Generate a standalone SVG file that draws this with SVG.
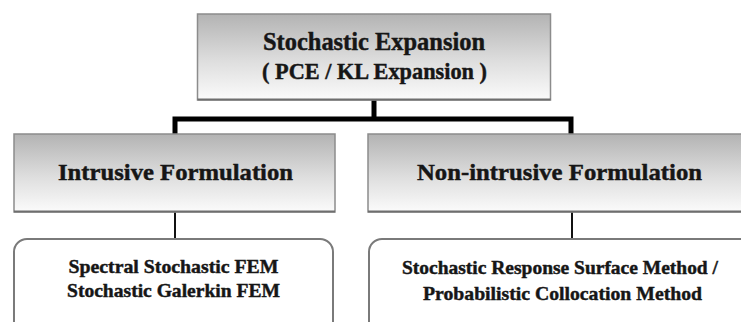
<svg xmlns="http://www.w3.org/2000/svg" width="741" height="322" viewBox="0 0 741 322">
  <defs>
    <linearGradient id="shade" x1="0" y1="0" x2="0" y2="1">
      <stop offset="0" stop-color="#b3b3b3"/>
      <stop offset="0.55" stop-color="#dedede"/>
      <stop offset="1" stop-color="#fbfbfb"/>
    </linearGradient>
  </defs>
  <style>
    .head { fill: url(#shade); stroke: #8c8c8c; stroke-width: 1.5; }
    .base { stroke: #6e6e6e; stroke-width: 2; }
    .leaf { fill: #ffffff; stroke: #7a7a7a; stroke-width: 2; }
    .t { font-family: "Liberation Serif", "Times New Roman", serif; font-weight: bold; fill: #161616; stroke: #161616; stroke-width: 0.45; text-anchor: middle; }
    .big { font-size: 25px; }
    .sub { font-size: 23px; }
    .mid { font-size: 24px; }
    .small { font-size: 19.5px; }
    .thick { stroke: #000; stroke-width: 5; fill: none; }
    .thin { stroke: #111; stroke-width: 2; fill: none; }
  </style>
  <rect width="741" height="322" fill="#ffffff"/>

  <g id="connectors">
    <line class="thick" x1="374" y1="100" x2="374" y2="119"/>
    <polyline class="thick" points="175,134 175,119 571,119 571,134"/>
    <line class="thin" x1="175" y1="212" x2="175" y2="239"/>
    <line class="thin" x1="572" y1="212" x2="572" y2="240"/>
  </g>

  <g id="stochastic-expansion">
    <rect class="head" x="197.5" y="14" width="353" height="86"/>
    <line class="base" x1="197.5" y1="99.5" x2="550.5" y2="99.5"/>
    <text class="t big" x="374" y="50" textLength="222" lengthAdjust="spacingAndGlyphs">Stochastic Expansion</text>
    <text class="t sub" x="374.5" y="79" textLength="225" lengthAdjust="spacingAndGlyphs">( PCE / KL Expansion )</text>
  </g>

  <g id="intrusive">
    <rect class="head" x="14" y="134" width="321" height="78"/>
    <line class="base" x1="14" y1="211.5" x2="335" y2="211.5"/>
    <text class="t mid" x="175.5" y="180" textLength="235" lengthAdjust="spacingAndGlyphs">Intrusive Formulation</text>
  </g>

  <g id="non-intrusive">
    <rect class="head" x="368" y="134" width="380" height="78"/>
    <line class="base" x1="368" y1="211.5" x2="741" y2="211.5"/>
    <text class="t mid" x="559.5" y="180" textLength="285" lengthAdjust="spacingAndGlyphs">Non-intrusive Formulation</text>
  </g>

  <g id="intrusive-methods">
    <rect class="leaf" x="14" y="239" width="319" height="110" rx="13"/>
    <text class="t small" x="173.5" y="273" textLength="210" lengthAdjust="spacingAndGlyphs">Spectral Stochastic FEM</text>
    <text class="t small" x="173.5" y="297" textLength="213" lengthAdjust="spacingAndGlyphs">Stochastic Galerkin FEM</text>
  </g>

  <g id="non-intrusive-methods">
    <rect class="leaf" x="369" y="239" width="400" height="110" rx="13"/>
    <text class="t small" x="560" y="274" textLength="316" lengthAdjust="spacingAndGlyphs">Stochastic Response Surface Method /</text>
    <text class="t small" x="562.5" y="300" textLength="279" lengthAdjust="spacingAndGlyphs">Probabilistic Collocation Method</text>
  </g>
</svg>
